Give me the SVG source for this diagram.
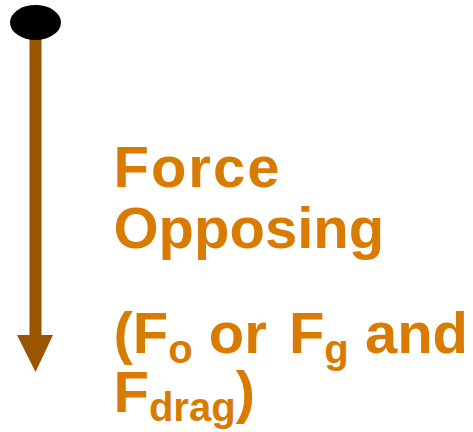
<svg xmlns="http://www.w3.org/2000/svg" width="473" height="432" viewBox="0 0 473 432">
<style>
.t{font-family:"Liberation Sans",Arial,sans-serif;font-weight:bold;font-size:58px;fill:#D97B00}
.s{font-size:40px}
</style>
<rect width="473" height="432" fill="#ffffff"/>
<g id="connectors">
<rect x="29.5" y="30" width="12" height="308" fill="#9A5500"/>
<polygon points="17,335 53,335 35.5,372" fill="#9A5500"/>
</g>
<g id="point">
<ellipse cx="35.5" cy="22.5" rx="25.5" ry="17.5" fill="#000000"/>
</g>
<g id="label">
<text class="t" x="113.5" y="187" letter-spacing="2">Force</text>
<text class="t" x="113.5" y="248">Opposing</text>
<text class="t" x="113.5" y="353">(F<tspan class="s" dy="10">o</tspan><tspan dy="-10"> or </tspan><tspan dx="6">F</tspan><tspan class="s" dy="10">g</tspan><tspan dy="-10"> and</tspan></text>
<text class="t" x="113.5" y="412">F<tspan class="s" dy="9">drag</tspan><tspan dy="-9">)</tspan></text>
</g>
</svg>
